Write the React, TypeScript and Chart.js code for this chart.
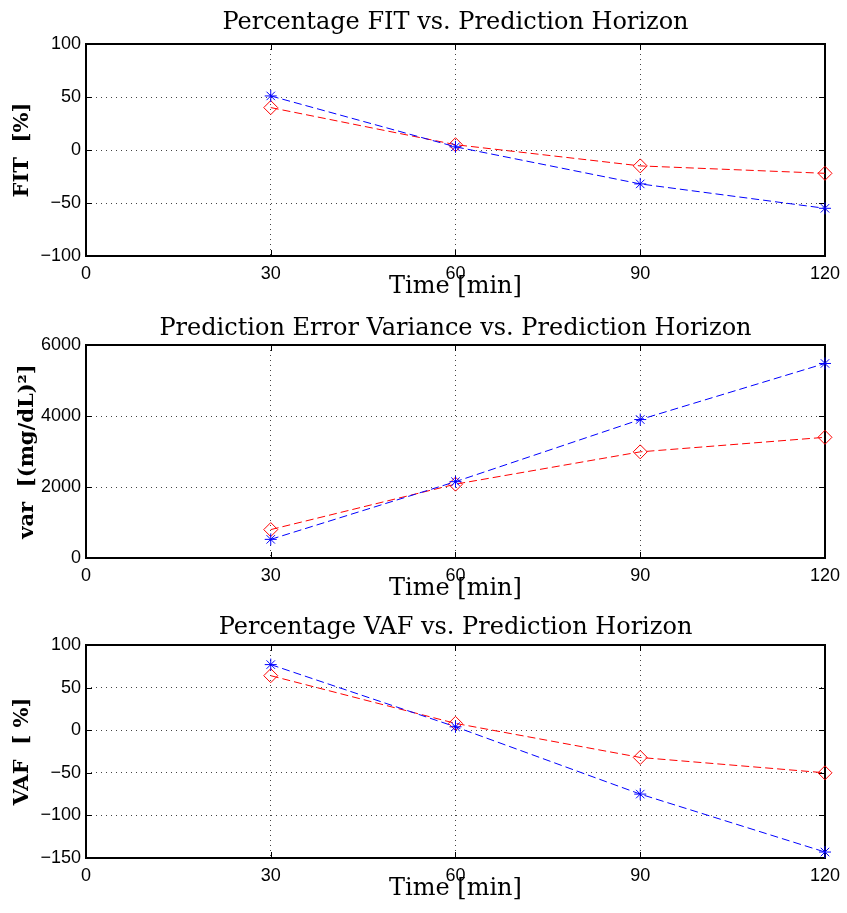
import React, { useEffect, useRef } from "react";
import { Chart, registerables } from "chart.js";

Chart.register(...registerables);

// ---- data ----
const horizons = [30, 60, 90, 120];

const fitBlue = [51, 3, -32, -55];
const fitRed = [40, 5, -15, -22];

const varBlue = [525, 2150, 3900, 5480];
const varRed = [800, 2080, 2990, 3400];

const vafBlue = [77, 4, -75, -143];
const vafRed = [64, 8, -32, -50];

const panelTitles = [
  "Percentage FIT vs. Prediction Horizon",
  "Prediction Error Variance vs. Prediction Horizon",
  "Percentage VAF vs. Prediction Horizon",
];
const yLabels = ["FIT  [%]", "var  [(mg/dL)\u00B2]", "VAF  [ %]"];
const xLabel = "Time [min]";

const yRanges = [
  { min: -100, max: 100, step: 50 },
  { min: 0, max: 6000, step: 2000 },
  { min: -150, max: 100, step: 50 },
];

// ---- layout (pixels) ----
const W = 847;
const panels = [
  { top: 0, height: 305, plotTop: 44, plotBottom: 256, titleY: 29, ylabelX: 28 },
  { top: 305, height: 300, plotTop: 40, plotBottom: 253, titleY: 30, ylabelX: 33 },
  { top: 605, height: 308, plotTop: 40, plotBottom: 253, titleY: 29, ylabelX: 28 },
];
const seriesBlue = [fitBlue, varBlue, vafBlue];
const seriesRed = [fitRed, varRed, vafRed];

const fmt = (v: number) => (v < 0 ? "\u2212" + String(-v) : String(v));

function Panel({ idx }: { idx: number }) {
  const ref = useRef<HTMLCanvasElement | null>(null);
  const p = panels[idx];
  useEffect(() => {
    if (!ref.current) return;
    const yr = yRanges[idx];
    const decor = {
      id: "decor",
      beforeDatasetsDraw(chart: any) {
        const { ctx, chartArea: a, scales } = chart;
        ctx.save();
        ctx.setLineDash([]);
        ctx.strokeStyle = "#000";
        ctx.lineWidth = 1;
        const tl = 6;
        const xs = scales.x;
        const ys = scales.y;
        xs.ticks.forEach((t: any) => {
          const x = Math.round(xs.getPixelForValue(t.value)) + 0.5;
          ctx.beginPath();
          ctx.moveTo(x, a.bottom);
          ctx.lineTo(x, a.bottom - tl);
          ctx.moveTo(x, a.top);
          ctx.lineTo(x, a.top + tl);
          ctx.stroke();
        });
        ys.ticks.forEach((t: any) => {
          const y = Math.round(ys.getPixelForValue(t.value)) + 0.5;
          ctx.beginPath();
          ctx.moveTo(a.left, y);
          ctx.lineTo(a.left + tl, y);
          ctx.moveTo(a.right, y);
          ctx.lineTo(a.right - tl, y);
          ctx.stroke();
        });
        ctx.lineWidth = 2;
        ctx.strokeRect(Math.round(a.left), Math.round(a.top), Math.round(a.right - a.left), Math.round(a.bottom - a.top));
        ctx.restore();
      },
      afterDraw(chart: any) {
        const { ctx, chartArea: a } = chart;
        ctx.save();
        ctx.fillStyle = "#000";
        ctx.textAlign = "center";
        ctx.textBaseline = "alphabetic";
        const cx = (a.left + a.right) / 2;
        ctx.font = '24px "DejaVu Serif"';
        ctx.fillText(panelTitles[idx], cx, p.titleY);
        ctx.fillText(xLabel, cx, a.bottom + 37);
        ctx.font = 'bold 21px "DejaVu Serif"';
        ctx.translate(p.ylabelX, (a.top + a.bottom) / 2);
        ctx.rotate(-Math.PI / 2);
        ctx.fillText(yLabels[idx], 0, 0);
        ctx.restore();
      },
    };
    const tickFont = { family: '"Liberation Sans", Arial, sans-serif', size: 18 };
    const chart = new Chart(ref.current, {
      type: "line",
      data: {
        datasets: [
          {
            label: "Model A",
            data: horizons.map((h, i) => ({ x: h, y: seriesBlue[idx][i] })),
            borderColor: "#0000ff",
            backgroundColor: "#0000ff",
            borderWidth: 1,
            borderDash: [8, 4],
            pointStyle: "star",
            pointRadius: 6,
            pointBorderWidth: 1,
            pointBorderColor: "#0000ff",
            clip: false,
          },
          {
            label: "Model B",
            data: horizons.map((h, i) => ({ x: h, y: seriesRed[idx][i] })),
            borderColor: "#ff0000",
            backgroundColor: "rgba(0,0,0,0)",
            borderWidth: 1,
            borderDash: [8, 4],
            pointStyle: "rectRot",
            pointRadius: 7,
            pointBorderWidth: 1,
            pointBorderColor: "#ff0000",
            clip: false,
          },
        ],
      },
      options: {
        animation: false,
        responsive: false,
        devicePixelRatio: 1,
        layout: { padding: { left: 0, right: 18, top: p.plotTop, bottom: 0 } },
        plugins: { legend: { display: false }, tooltip: { enabled: false }, title: { display: false } },
        scales: {
          x: {
            type: "linear",
            min: 0,
            max: 120,
            ticks: { stepSize: 30, font: tickFont, color: "#000", padding: 7, maxRotation: 0 },
            grid: { color: "#444", drawTicks: false, lineWidth: 1 },
            border: { display: false, dash: [1, 4] },
            afterFit: (s: any) => {
              s.height = p.height - p.plotBottom;
            },
          },
          y: {
            type: "linear",
            min: yr.min,
            max: yr.max,
            ticks: { stepSize: yr.step, font: tickFont, color: "#000", padding: 5, callback: (v: any) => fmt(Number(v)) },
            grid: { color: "#444", drawTicks: false, lineWidth: 1 },
            border: { display: false, dash: [1, 4] },
            afterFit: (s: any) => {
              s.width = 86;
            },
          },
        },
      },
      plugins: [decor],
    } as any);
    return () => chart.destroy();
  }, [idx]);
  return (
    <canvas
      ref={ref}
      width={W}
      height={p.height}
      style={{ position: "absolute", left: 0, top: p.top, display: "block" }}
    />
  );
}

export default function App() {
  return (
    <div style={{ position: "absolute", left: 0, top: 0, width: W, height: 913, background: "#fff" }}>
      <Panel idx={0} />
      <Panel idx={1} />
      <Panel idx={2} />
    </div>
  );
}
